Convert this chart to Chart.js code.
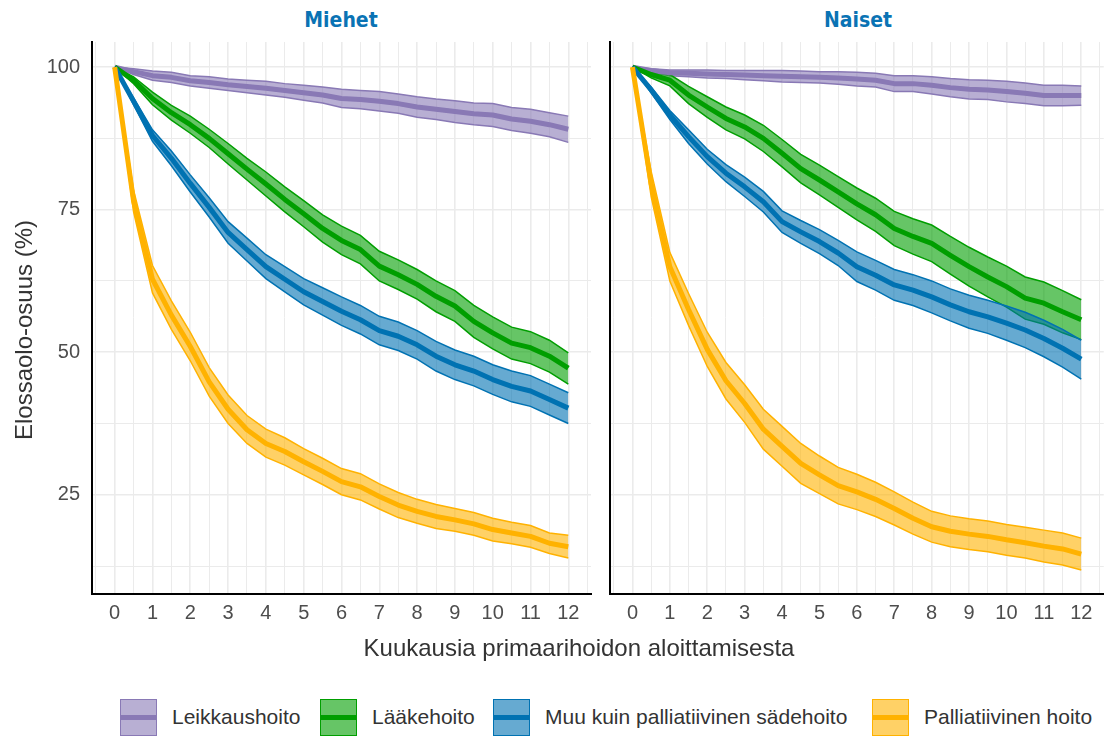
<!DOCTYPE html>
<html lang="fi">
<head>
<meta charset="utf-8">
<title>Elossaolo-osuus hoitomuodoittain</title>
<script src="https://cdn.jsdelivr.net/npm/chart.js@4.4.1/dist/chart.umd.min.js"></script>
<style>
  html, body { margin: 0; padding: 0; background: #fff; }
  body { width: 1107px; height: 738px; position: relative; overflow: hidden;
         font-family: "Liberation Sans", Arial, sans-serif; }
  canvas { position: absolute; top: 0; }
  #miehet { left: 0; }
  #naiset { left: 600px; }
  .strip { position: absolute; top: 8px; width: 200px; margin-left: -100px; text-align: center;
           font-family: "Liberation Sans Narrow", "DejaVu Sans Condensed", sans-serif;
           font-weight: bold; font-size: 21px; color: #0a73b4; }
  #ytitle { position: absolute; left: -176px; top: 316px; width: 400px; text-align: center;
            font-size: 24px; color: #333; transform: rotate(-90deg); }
  #xtitle { position: absolute; left: 279px; top: 634px; width: 600px; text-align: center;
            font-size: 24px; color: #333; }
  .key { position: absolute; top: 699px; width: 37px; height: 37px; box-sizing: border-box; }
  .key span { position: absolute; left: 0; right: 0; top: 14.5px; height: 5px; }
  .keytext { position: absolute; top: 705px; font-size: 21px; color: #333; white-space: nowrap; }
</style>
</head>
<body>
<div class="strip" style="left:341px">Miehet</div>
<div class="strip" style="left:858px">Naiset</div>
<canvas id="miehet" width="600" height="640"></canvas>
<canvas id="naiset" width="507" height="640"></canvas>
<div id="ytitle">Elossaolo-osuus (%)</div>
<div id="xtitle">Kuukausia primaarihoidon aloittamisesta</div>
<div id="legend"></div>

<script>
const months = [0, 0.5, 1, 1.5, 2, 2.5, 3, 3.5, 4, 4.5, 5, 5.5, 6, 6.5, 7, 7.5, 8, 8.5, 9, 9.5, 10, 10.5, 11, 11.5, 12];
const xTickLabels = [0, 1, 2, 3, 4, 5, 6, 7, 8, 9, 10, 11, 12];
const yTickLabels = [25, 50, 75, 100];

const treatments = ['Leikkaushoito', 'Lääkehoito', 'Muu kuin palliatiivinen sädehoito', 'Palliatiivinen hoito'];
const lineColors = ['rgb(137,121,181)', 'rgb(0,158,0)', 'rgb(0,114,178)', 'rgb(255,178,0)'];
const fillColors = ['rgba(137,121,181,0.6)', 'rgba(0,158,0,0.6)', 'rgba(0,114,178,0.6)', 'rgba(255,178,0,0.6)'];

// Miehet: estimate, lower and upper limit
const leikkausM = [100, 99.2, 98.5, 98.2, 97.6, 97.3, 96.9, 96.6, 96.3, 95.9, 95.5, 95.1, 94.5, 94.3, 94.0, 93.6, 93.0, 92.6, 92.2, 91.8, 91.6, 90.9, 90.5, 89.9, 89.1];
const leikkausMAla = [100, 98.7, 97.7, 97.3, 96.7, 96.3, 95.9, 95.5, 95.1, 94.7, 94.2, 93.7, 92.9, 92.7, 92.3, 91.9, 91.2, 90.8, 90.3, 89.9, 89.6, 88.9, 88.4, 87.8, 86.8];
const leikkausMYla = [100, 99.7, 99.3, 99.1, 98.5, 98.3, 97.9, 97.7, 97.5, 97.1, 96.8, 96.5, 96.1, 95.9, 95.7, 95.3, 94.8, 94.4, 94.1, 93.7, 93.6, 92.9, 92.6, 92.0, 91.4];

const laakeM = [100, 97.7, 94.5, 92.0, 89.9, 87.5, 84.8, 82.1, 79.5, 76.8, 74.3, 71.7, 69.6, 68.0, 65.1, 63.6, 61.9, 59.8, 58.1, 55.4, 53.4, 51.6, 50.8, 49.3, 47.2];
const laakeMAla = [100, 97.1, 93.4, 90.7, 88.4, 85.9, 83.0, 80.2, 77.4, 74.6, 72.0, 69.3, 67.1, 65.5, 62.5, 61.0, 59.3, 57.1, 55.4, 52.6, 50.6, 48.8, 48.0, 46.5, 44.4];
const laakeMYla = [100, 98.3, 95.6, 93.3, 91.4, 89.1, 86.6, 84.0, 81.6, 79.0, 76.6, 74.1, 72.1, 70.5, 67.7, 66.2, 64.5, 62.5, 60.8, 58.2, 56.2, 54.4, 53.6, 52.1, 49.9];

const sadeM = [100, 94.0, 88.0, 84.0, 79.6, 75.4, 71.0, 68.0, 65.0, 62.8, 60.6, 58.9, 57.2, 55.7, 53.8, 52.8, 51.3, 49.3, 47.8, 46.7, 45.2, 44.0, 43.2, 41.7, 40.2];
const sadeMAla = [100, 93.4, 87.0, 82.7, 78.1, 73.7, 69.1, 66.0, 62.9, 60.6, 58.3, 56.5, 54.7, 53.2, 51.3, 50.3, 48.8, 46.7, 45.2, 44.1, 42.6, 41.3, 40.5, 39.0, 37.5];
const sadeMYla = [100, 94.6, 89.0, 85.3, 81.1, 77.1, 72.9, 70.0, 67.1, 65.0, 62.9, 61.3, 59.7, 58.2, 56.3, 55.3, 53.8, 51.9, 50.4, 49.3, 47.8, 46.7, 45.9, 44.4, 42.9];

const palliM = [100, 76.5, 62.8, 56.5, 51.0, 44.8, 40.0, 36.4, 34.0, 32.6, 30.8, 29.1, 27.3, 26.4, 24.7, 23.2, 22.1, 21.2, 20.6, 19.9, 18.9, 18.3, 17.7, 16.5, 15.9];
const palliMAla = [100, 74.6, 60.4, 54.0, 48.5, 42.3, 37.5, 34.0, 31.6, 30.2, 28.5, 26.8, 25.0, 24.1, 22.5, 21.0, 20.0, 19.1, 18.6, 17.9, 16.9, 16.4, 15.8, 14.7, 13.9];
const palliMYla = [100, 78.4, 65.2, 59.0, 53.5, 47.3, 42.5, 38.9, 36.5, 35.0, 33.1, 31.4, 29.6, 28.7, 26.9, 25.4, 24.2, 23.3, 22.6, 21.9, 20.9, 20.2, 19.6, 18.3, 17.9];

// Naiset
const leikkausN = [100, 99.4, 99.0, 98.9, 98.8, 98.7, 98.6, 98.5, 98.4, 98.3, 98.2, 98.1, 97.9, 97.7, 97.1, 97.1, 96.8, 96.4, 96.1, 96.0, 95.7, 95.4, 95.0, 95.0, 95.0];
const leikkausNAla = [100, 99.1, 98.5, 98.3, 98.1, 98.0, 97.8, 97.6, 97.4, 97.3, 97.2, 97.0, 96.7, 96.5, 95.7, 95.7, 95.3, 94.8, 94.4, 94.3, 93.9, 93.6, 93.2, 93.2, 93.3];
const leikkausNYla = [100, 99.7, 99.5, 99.5, 99.5, 99.4, 99.4, 99.4, 99.4, 99.3, 99.2, 99.2, 99.1, 98.9, 98.5, 98.5, 98.3, 98.0, 97.8, 97.7, 97.5, 97.2, 96.8, 96.8, 96.7];

const laakeN = [100, 98.7, 97.7, 95.1, 93.0, 91.0, 89.5, 87.5, 84.9, 82.2, 80.2, 78.1, 76.0, 74.1, 71.7, 70.3, 69.1, 67.0, 65.0, 63.2, 61.5, 59.5, 58.6, 57.1, 55.7];
const laakeNAla = [100, 98.1, 96.7, 93.6, 91.2, 89.0, 87.4, 85.2, 82.5, 79.7, 77.6, 75.4, 73.2, 71.2, 68.7, 67.2, 65.9, 63.7, 61.6, 59.7, 57.9, 55.8, 54.9, 53.4, 52.2];
const laakeNYla = [100, 99.3, 98.7, 96.6, 94.8, 93.0, 91.6, 89.8, 87.3, 84.7, 82.8, 80.8, 78.8, 77.0, 74.7, 73.4, 72.3, 70.3, 68.4, 66.7, 65.1, 63.2, 62.3, 60.8, 59.2];

const sadeN = [100, 96.0, 91.6, 87.8, 84.3, 81.4, 79.0, 76.4, 72.9, 71.1, 69.4, 67.4, 65.0, 63.5, 61.8, 60.9, 59.7, 58.3, 57.1, 56.2, 55.1, 53.9, 52.4, 50.7, 48.8];
const sadeNAla = [100, 95.5, 90.8, 86.6, 83.0, 79.9, 77.3, 74.6, 71.0, 69.1, 67.3, 65.2, 62.4, 60.9, 59.1, 58.2, 56.9, 55.5, 54.2, 53.3, 52.1, 50.8, 49.2, 47.4, 45.3];
const sadeNYla = [100, 96.5, 92.4, 89.0, 85.6, 82.9, 80.7, 78.2, 74.8, 73.1, 71.5, 69.6, 67.6, 66.1, 64.5, 63.6, 62.5, 61.1, 60.0, 59.1, 58.1, 57.0, 55.6, 54.0, 52.1];

const palliN = [100, 79.5, 65.0, 57.5, 50.5, 45.0, 41.0, 36.5, 33.5, 30.5, 28.5, 26.6, 25.5, 24.2, 22.6, 20.9, 19.4, 18.6, 18.1, 17.7, 17.1, 16.6, 16.0, 15.5, 14.6];
const palliNAla = [100, 77.3, 62.5, 54.7, 47.5, 41.8, 37.7, 33.0, 30.0, 27.0, 25.2, 23.4, 22.4, 21.2, 19.7, 18.1, 16.7, 15.9, 15.4, 15.0, 14.4, 13.9, 13.2, 12.7, 11.8];
const palliNYla = [100, 81.7, 67.5, 60.3, 53.5, 48.2, 44.3, 40.0, 37.0, 34.0, 31.8, 29.8, 28.6, 27.2, 25.5, 23.7, 22.1, 21.3, 20.8, 20.4, 19.8, 19.3, 18.8, 18.3, 17.4];

// grid at every half month and every 12.5 percent
const xGrid = [];
for (let v = -0.5; v <= 12.5; v += 0.5) xGrid.push(v);
const yGrid = [12.5, 25, 37.5, 50, 62.5, 75, 87.5, 100];

const tickFont = { family: '"Liberation Sans", Arial, sans-serif', size: 20 };

function toPoints(values) {
    return values.map((v, i) => ({ x: months[i], y: v }));
}

function buildDatasets(est, lo, hi) {
    const sets = [];
    treatments.forEach((name, k) => {
        // upper limit filled down to the lower limit right after it
        sets.push({
            label: name + ' yläraja', data: toPoints(hi[k]),
            borderColor: lineColors[k], borderWidth: 1.5,
            backgroundColor: fillColors[k], fill: '+1', order: 8 - k
        });
        sets.push({
            label: name + ' alaraja', data: toPoints(lo[k]),
            borderColor: lineColors[k], borderWidth: 1.5, fill: false, order: 8 - k
        });
    });
    treatments.forEach((name, k) => {
        sets.push({
            label: name, data: toPoints(est[k]),
            borderColor: lineColors[k], borderWidth: 5, fill: false, order: 4 - k,
            borderJoinStyle: 'round'
        });
    });
    return sets;
}

function panelOptions(showYLabels, yAxisWidth, padRight) {
    return {
        responsive: false,
        animation: false,
        events: [],
        layout: { padding: { top: 42, right: padRight, left: 0, bottom: 0 } },
        plugins: { legend: { display: false }, tooltip: { enabled: false } },
        elements: { point: { radius: 0 }, line: { tension: 0 } },
        scales: {
            x: {
                type: 'linear', min: -0.6, max: 12.6,
                afterBuildTicks: s => { s.ticks = xGrid.map(v => ({ value: v })); },
                afterFit: s => { s.height = 46; },
                grid: {
                    color: '#ebebeb', drawTicks: false,
                    lineWidth: c => (c.tick && Number.isInteger(c.tick.value)) ? 1.6 : 1
                },
                border: { display: true, color: '#000', width: 2 },
                ticks: {
                    autoSkip: false, maxRotation: 0, padding: 7, color: '#4d4d4d', font: tickFont,
                    callback: v => xTickLabels.includes(v) ? String(v) : ''
                }
            },
            y: {
                min: 7.6, max: 104.4,
                afterBuildTicks: s => { s.ticks = yGrid.map(v => ({ value: v })); },
                afterFit: s => { s.width = yAxisWidth; },
                grid: {
                    color: '#ebebeb', drawTicks: false,
                    lineWidth: c => (c.tick && yTickLabels.includes(c.tick.value)) ? 1.6 : 1
                },
                border: { display: true, color: '#000', width: 2 },
                ticks: {
                    display: showYLabels, autoSkip: false, padding: 12, color: '#4d4d4d', font: tickFont,
                    callback: v => yTickLabels.includes(v) ? String(v) : ''
                }
            }
        }
    };
}

new Chart(document.getElementById('miehet'), {
    type: 'line',
    data: {
        datasets: buildDatasets(
            [leikkausM, laakeM, sadeM, palliM],
            [leikkausMAla, laakeMAla, sadeMAla, palliMAla],
            [leikkausMYla, laakeMYla, sadeMYla, palliMYla])
    },
    options: panelOptions(true, 92, 9)
});

new Chart(document.getElementById('naiset'), {
    type: 'line',
    data: {
        datasets: buildDatasets(
            [leikkausN, laakeN, sadeN, palliN],
            [leikkausNAla, laakeNAla, sadeNAla, palliNAla],
            [leikkausNYla, laakeNYla, sadeNYla, palliNYla])
    },
    options: panelOptions(false, 10, 1)
});

// legend: band colour box with the estimate line across it
const legendEl = document.getElementById('legend');
const keyLeft = [120, 320, 493, 872];
treatments.forEach((name, k) => {
    legendEl.innerHTML += `
    <div class="key" style="left:${keyLeft[k]}px; border:1.5px solid ${lineColors[k]}; background:${fillColors[k]}">
        <span style="background:${lineColors[k]}"></span>
    </div>
    <div class="keytext" style="left:${keyLeft[k] + 52}px">${name}</div>`;
});
</script>
</body>
</html>
